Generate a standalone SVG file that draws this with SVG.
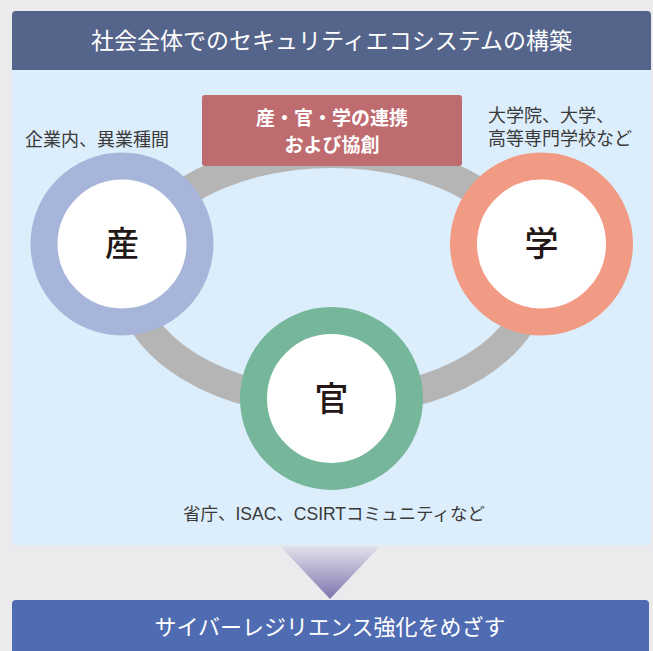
<svg xmlns="http://www.w3.org/2000/svg" width="653" height="651" viewBox="0 0 653 651">
<defs>
<style>
text{font-family:"Noto Sans CJK JP","Noto Sans",sans-serif;}
.hd{fill:#ffffff;font-size:23px;text-anchor:middle;}
.lbl{fill:#3a3a3a;font-size:18px;font-family:"Liberation Sans","Noto Sans CJK JP",sans-serif;}
.big{fill:#231815;font-size:34px;text-anchor:middle;font-weight:500;}
.pk{fill:#ffffff;font-size:19px;text-anchor:middle;font-weight:bold;}
.ring{fill:#ffffff;stroke-width:27;}
</style>
<linearGradient id="tri" x1="0" y1="0" x2="0" y2="1">
<stop offset="0" stop-color="#e1e2ec"/>
<stop offset="1" stop-color="#7f73ad"/>
</linearGradient>
</defs>
<rect x="0" y="0" width="653" height="651" fill="#ebebee"/>
<g id="panel">
<rect x="12" y="11" width="639" height="534" rx="4" fill="#dcedfb"/>
<path d="M12,70 V15 a4,4 0 0 1 4,-4 H647 a4,4 0 0 1 4,4 V70 Z" fill="#55648a"/>
<text class="hd" x="331.5" y="49">社会全体でのセキュリティエコシステムの構築</text>
</g>
<g id="connectors">
<ellipse cx="332" cy="278" rx="202.5" ry="124.5" fill="none" stroke="#b5b5b5" stroke-width="29"/>
</g>
<g id="collab">
<rect x="202" y="95" width="260" height="71" rx="3" fill="#bf6c71"/>
<text class="pk"><tspan x="332" y="125">産・官・学の連携</tspan><tspan x="332" y="152">および協創</tspan></text>
</g>
<g id="node-san">
<circle class="ring" cx="122" cy="244" r="78" stroke="#a7b5da"/>
<text class="big" x="122" y="256">産</text>
<text class="lbl" x="25" y="146">企業内、異業種間</text>
</g>
<g id="node-gaku">
<circle class="ring" cx="541.5" cy="244" r="78" stroke="#f29b84"/>
<text class="big" x="541.5" y="256">学</text>
<text class="lbl"><tspan x="488" y="122">大学院、大学、</tspan><tspan x="488" y="145">高等専門学校など</tspan></text>
</g>
<g id="node-kan">
<circle class="ring" cx="331.5" cy="398.5" r="78" stroke="#76b69b"/>
<text class="big" x="331.5" y="411">官</text>
<text class="lbl" x="334" y="520" text-anchor="middle" style="font-size:17.5px">省庁、ISAC、CSIRTコミュニティなど</text>
</g>
<g id="arrow">
<polygon points="280,546 380,546 330,599" fill="url(#tri)"/>
</g>
<g id="goal">
<path d="M12,651 V604 a4,4 0 0 1 4,-4 H645 a4,4 0 0 1 4,4 V651 Z" fill="#4f6cb3"/>
<text class="hd" x="330" y="635" style="font-size:22px">サイバーレジリエンス強化をめざす</text>
</g>
</svg>
